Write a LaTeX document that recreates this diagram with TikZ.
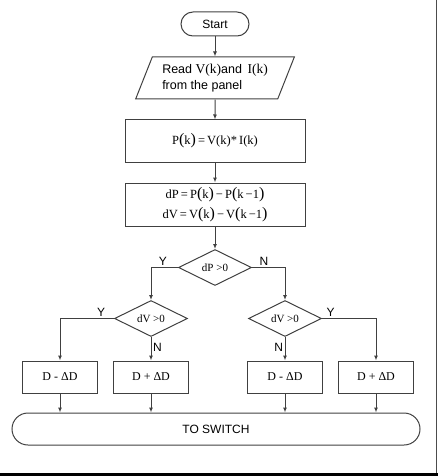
\documentclass[tikz,border=0pt]{standalone}
\usepackage{fontspec}
\setmainfont{Liberation Sans}
\newfontfamily\tnr{Liberation Serif}
\usetikzlibrary{arrows.meta,shapes.geometric,positioning}
\newcommand{\bigp}[1]{{\fontsize{16}{16}\selectfont #1}}

\begin{document}
\begin{tikzpicture}[x=1pt,y=-1pt,
    font=\fontsize{12}{14}\selectfont,
    line/.style={draw=black!75,line width=1pt},
    arr/.style={line,-{Latex[length=5pt,width=4pt]}},
    term/.style={line,rounded corners=12pt,inner sep=0pt},
    io/.style={line,trapezium,trapezium left angle=63,trapezium right angle=117,
      trapezium stretches=true,minimum width=159pt,minimum height=42pt,
      inner sep=0pt,align=left,font=\fontsize{12.5}{15.5}\selectfont},
    proc/.style={line,rectangle,minimum width=180pt,inner sep=0pt,align=center,
      font=\tnr\fontsize{12.5}{20}\selectfont},
    dec/.style={line,diamond,minimum width=73pt,minimum height=36pt,inner sep=0pt,
      font=\tnr\fontsize{11}{13}\selectfont},
    act/.style={line,rectangle,minimum width=75pt,minimum height=32pt,inner sep=0pt,
      font=\tnr\fontsize{12}{14}\selectfont},
    yn/.style={font=\fontsize{12}{14}\selectfont,inner sep=1.5pt}]
  \useasboundingbox (0,0) rectangle (438,476);

  % Frame
  \draw[black!70,line width=1pt] (436.5,0) -- (436.5,473);
  \draw[black,line width=3pt] (0,474.5) -- (438,474.5);

  % Main column
  \node[term,minimum width=68pt,minimum height=24pt] (start) at (215,24) {Start};
  \node[io] (read) at (215,78) {Read {\tnr\fontsize{13.5}{15}\selectfont V(k)}and\,
    {\tnr\fontsize{13.5}{15}\selectfont I(k)}\\from the panel\hspace{24pt}};
  \node[proc,minimum height=42pt] (pow) at (215,141)
    {P\bigp{(}k\bigp{)}\,=\,V(k)*\,I(k)};
  \node[proc,minimum height=43pt] (diff) at (215,204.5)
    {dP\,=\,P\bigp{(}k\bigp{)}\,−\,P\bigp{(}k\,−1\bigp{)}\\
     dV\,=\,V\bigp{(}k\bigp{)}\,−\,V\bigp{(}k\,−1\bigp{)}};

  % Decisions
  \node[dec] (dp) at (215,267.5) {dP >0};
  \node[dec] (dvl) at (151,318.5) {dV >0};
  \node[dec] (dvr) at (285,318.5) {dV >0};

  % Duty cycle steps
  \node[act] (dec1) at (60,377) {D - ΔD};
  \node[act] (inc1) at (151,377) {D + ΔD};
  \node[act] (dec2) at (285,377) {D - ΔD};
  \node[act] (inc2) at (376,377) {D + ΔD};

  \node[term,rounded corners=16pt,minimum width=408pt,minimum height=32pt]
    (sw) at (216,429) {TO SWITCH};

  % Connectors
  \draw[arr] (start) -- (read);
  \draw[arr] (read) -- (pow);
  \draw[arr] (pow) -- (diff);
  \draw[arr] (diff) -- (dp);
  \draw[arr] (dp.west) -| node[yn,above,pos=0.28] {Y} (dvl.north);
  \draw[arr] (dp.east) -| node[yn,above,pos=0.18] {N} (dvr.north);
  \draw[arr] (dvl.west) -| node[yn,above,pos=0.12] {Y} (dec1.north);
  \draw[arr] (dvl) -- node[yn,right,pos=0.42] {N} (inc1);
  \draw[arr] (dvr.east) -| node[yn,above,pos=0.08] {Y} (inc2.north);
  \draw[arr] (dvr) -- node[yn,left,pos=0.42] {N} (dec2);
  \foreach \b in {dec1,inc1,dec2,inc2}
    \draw[arr] (\b) -- (\b |- sw.north);
\end{tikzpicture}
\end{document}
